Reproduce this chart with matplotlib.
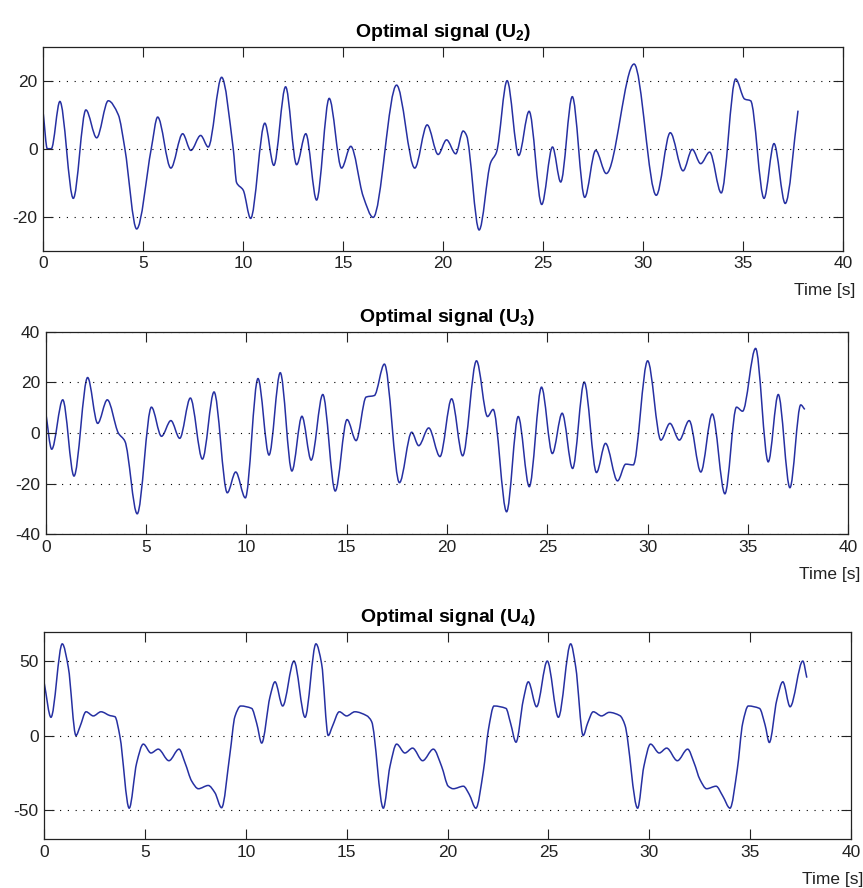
import matplotlib
matplotlib.use("Agg")
import matplotlib.pyplot as plt
from matplotlib.path import Path
from matplotlib.patches import PathPatch

# === Werte (Extrema und Schultern) ===
t_u2 = [0.0, 0.2, 0.4, 0.83, 1.5, 2.13, 2.67, 3.25, 3.75, 4.08, 4.67, 5.4, 5.72,
        6.38, 6.97, 7.38, 7.87, 8.25, 8.92, 9.5, 9.67, 10.0, 10.37, 11.08, 11.53,
        12.12, 12.67, 13.13, 13.67, 14.3, 14.92, 15.38, 16.0, 16.5, 17.67, 18.58,
        19.2, 19.75, 20.17, 20.63, 21.0, 21.17, 21.8, 22.37, 22.67, 23.2, 23.78,
        24.3, 24.93, 25.47, 25.88, 26.46, 27.08, 27.63, 28.16, 29.55, 30.66,
        31.36, 32.0, 32.46, 32.88, 33.33, 33.91, 34.63, 35.08, 35.38, 36.05,
        36.55, 37.11, 37.75]
u2 = [10.2, 0.0, 0.0, 13.9, -14.6, 11.4, 3.2, 14.1, 10.0, 0.0, -23.6, 0.0, 9.3,
      -5.7, 4.4, -0.5, 3.9, 0.5, 21.0, 0.0, -10.0, -12.2, -20.5, 7.5, -4.9,
      18.2, -4.7, 4.4, -15.1, 14.8, -5.7, 0.7, -14.0, -20.2, 18.7, -5.7,
      7.0, -1.7, 2.6, -1.5, 5.2, 3.9, -23.9, -4.2, -1.0, 20.0, -2.0,
      11.0, -16.4, 0.5, -9.8, 15.3, -14.3, -0.5, -7.3, 24.9, -13.7,
      4.7, -6.5, -0.2, -4.4, -1.0, -13.0, 20.5, 14.6, 14.1, -14.6,
      1.5, -16.1, 11.2]

t_u3 = [0.0, 0.3, 0.85, 1.41, 2.09, 2.59, 3.07, 3.62, 3.95, 4.56, 5.27, 5.77,
        6.24, 6.68, 7.21, 7.81, 8.39, 9.05, 9.47, 9.95, 10.58, 11.13, 11.69,
        12.27, 12.77, 13.23, 13.81, 14.43, 15.02, 15.47, 15.97, 16.38, 16.88,
        17.63, 18.24, 18.59, 19.09, 19.65, 20.23, 20.78, 21.47, 22.02, 22.3,
        22.97, 23.55, 24.1, 24.71, 25.25, 25.74, 26.26, 26.84, 27.45, 27.9,
        28.5, 28.91, 29.28, 30.0, 30.66, 31.11, 31.58, 32.07, 32.65, 33.22,
        33.85, 34.43, 34.73, 35.38, 36.01, 36.51, 37.09, 37.63, 37.83]
u3 = [8.2, -6.4, 13.1, -17.0, 21.9, 3.8, 13.1, 0.0, -3.3, -31.9, 10.2, -1.3,
      4.9, -2.1, 13.8, -10.3, 16.2, -23.6, -15.4, -25.6, 21.5, -8.7, 23.8,
      -15.0, 6.6, -10.7, 15.2, -22.9, 5.3, -3.0, 14.2, 14.8, 27.2,
      -19.6, 0.3, -5.0, 2.0, -9.3, 13.5, -9.0, 28.5, 6.5, 9.3,
      -31.1, 6.5, -21.2, 18.1, -8.1, 7.8, -14.0, 20.1, -15.6, -4.1,
      -18.9, -12.3, -12.6, 28.5, -2.8, 3.8, -2.8, 4.9, -15.4, 7.5,
      -24.0, 10.2, 8.6, 33.4, -11.4, 15.2, -21.6, 11.1, 9.3]

t_u4 = [0.0, 0.33, 0.89, 1.19, 1.57, 1.77, 2.07, 2.43, 2.81, 3.26, 3.5, 3.75,
        4.21, 4.58, 4.91, 5.29, 5.65, 6.18, 6.68, 6.98, 7.31, 7.64, 8.13, 8.46,
        8.79, 9.21, 9.45, 9.74, 10.28, 10.53, 10.78, 11.19, 11.44, 11.82, 12.38,
        12.93, 13.47, 13.75, 14.08, 14.28, 14.63, 14.99, 15.4, 15.98, 16.23,
        16.81, 17.14, 17.47, 17.88, 18.26, 18.76, 19.29, 19.7, 20.03, 20.28,
        20.78, 21.07, 21.4, 21.77, 22.02, 22.3, 22.89, 23.12, 23.39, 23.75,
        24.0, 24.41, 24.94, 25.49, 26.1, 26.35, 26.72, 26.94, 27.22, 27.63,
        28.01, 28.54, 28.79, 29.42, 29.73, 30.06, 30.49, 30.86, 31.39, 31.9,
        32.22, 32.51, 32.84, 33.31, 33.64, 34.0, 34.36, 34.63, 34.91, 35.46,
        35.74, 35.95, 36.32, 36.62, 36.98, 37.61, 37.81]
u4 = [35.0, 12.3, 61.8, 46.0, 0.0, 6.0, 16.0, 13.2, 16.0, 13.4, 12.7, -0.7,
      -49.0, -18.5, -5.8, -11.8, -9.2, -17.0, -9.2, -18.5, -30.8, -35.9, -33.7, -38.6,
      -48.7, -11.8, 12.7, 19.9, 18.3, 8.3, -5.1, 26.0, 36.2, 19.9, 50.2,
      12.3, 61.8, 48.4, 0.0, 6.0, 16.0, 13.2, 16.0, 13.4, 9.4,
      -49.0, -20.8, -5.8, -11.8, -8.5, -17.0, -9.2, -20.8, -34.2, -35.9,
      -34.2, -39.7, -49.0, -24.1, 3.8, 19.9, 18.3, 8.3, -4.5, 23.9,
      36.2, 19.4, 50.2, 12.3, 61.8, 46.2, 0.0, 8.3, 16.0, 13.2,
      15.6, 13.4, 7.1, -49.0, -20.8, -5.8, -11.8, -8.5, -17.0, -9.2,
      -18.5, -29.7, -35.9, -34.2, -40.8, -49.0, -23.0, 8.3, 19.9, 18.3,
      7.1, -4.7, 23.9, 36.2, 19.4, 50.2, 39.0]

titel = ['Optimal signal (U$_2$)', 'Optimal signal (U$_3$)', 'Optimal signal (U$_4$)']
y_ticks = [[-20, 0, 20], [-40, -20, 0, 20, 40], [-50, 0, 50]]
y_lims = [(-30, 30), (-40, 40), (-70, 70)]
x_ticks = list(range(0, 45, 5))


def glatte_kurve(t, y):
    n = len(t)
    d = [(y[k + 1] - y[k]) / (t[k + 1] - t[k]) for k in range(n - 1)]
    m = [0.0] * n
    m[0], m[-1] = d[0], d[-1]
    for k in range(1, n - 1):
        if d[k - 1] * d[k] > 0:
            m[k] = 2.0 / (1.0 / d[k - 1] + 1.0 / d[k])
    verts = [(t[0], y[0])]
    codes = [Path.MOVETO]
    for k in range(n - 1):
        h = (t[k + 1] - t[k]) / 3.0
        verts += [(t[k] + h, y[k] + m[k] * h),
                  (t[k + 1] - h, y[k + 1] - m[k + 1] * h),
                  (t[k + 1], y[k + 1])]
        codes += [Path.CURVE4] * 3
    return Path(verts, codes)


plt.rcParams['font.family'] = ['Liberation Sans', 'DejaVu Sans']
plt.rcParams['mathtext.default'] = 'regular'
plt.rcParams['axes.unicode_minus'] = False

fig = plt.figure(figsize=(8.63, 8.88), dpi=100)
W, H = 863.0, 888.0
# Achsen in Pixel (links, oben, rechts, unten)
boxen = [(43.3, 46.7, 843.0, 250.7),
         (45.7, 331.7, 848.3, 534.3),
         (44.3, 631.7, 851.0, 839.3)]

serien = [(t_u2, u2), (t_u3, u3), (t_u4, u4)]
for i, (l, o, r, u) in enumerate(boxen):
    ax = fig.add_axes([l / W, 1 - u / H, (r - l) / W, (u - o) / H])
    t, u_val = serien[i]
    ax.add_patch(PathPatch(glatte_kurve(t, u_val), facecolor='none',
                           edgecolor='#2630a2', lw=1.1))
    ax.set_xlim(0, 40)
    ax.set_ylim(*y_lims[i])
    ax.set_xticks(x_ticks)
    ax.set_yticks(y_ticks[i])
    ax.yaxis.grid(True, color='black', linestyle=(0, (1, 6)), lw=0.8)
    ax.tick_params(direction='in', length=7, width=0.8, top=True, right=True,
                   labelsize=12.5, pad=4, colors='#222222')
    for s in ax.spines.values():
        s.set_color('#222222')
        s.set_linewidth(0.9)
    ax.set_title(titel[i], fontsize=14, fontweight='bold', pad=7)
    ax.annotate('Time [s]', xy=(1, 0), xycoords='axes fraction',
                xytext=(12, -40), textcoords='offset pixels',
                ha='right', va='center', fontsize=12.5, color='#222222')

fig.savefig('out.png', dpi=100)
